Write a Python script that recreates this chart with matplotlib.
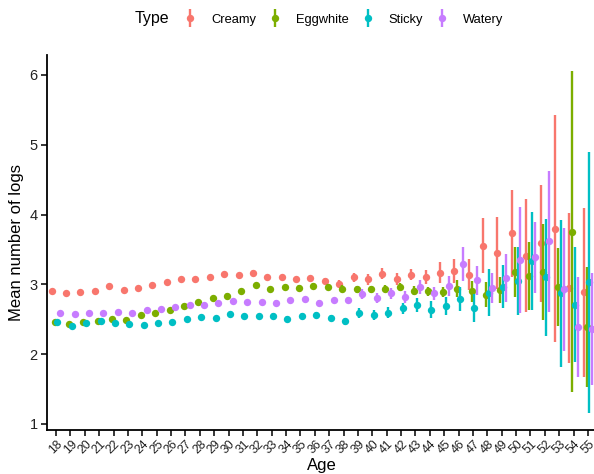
import matplotlib
matplotlib.use("Agg")
import matplotlib.pyplot as plt
from matplotlib.lines import Line2D
from matplotlib.legend_handler import HandlerTuple
import numpy as np

plt.rcParams['font.family'] = ['Liberation Sans', 'DejaVu Sans']

ages = list(range(18, 56))
types = ["Creamy", "Eggwhite", "Sticky", "Watery"]
colors = ["#F8766D", "#7CAE00", "#00BFC4", "#C77CFF"]

creamy_mean = [2.91, 2.87, 2.89, 2.905, 2.97, 2.915, 2.95, 2.99, 3.03, 3.07,
               3.08, 3.105, 3.15, 3.135, 3.17, 3.10, 3.105, 3.08, 3.09, 3.05,
               3.01, 3.10, 3.07, 3.15, 3.08, 3.14, 3.105, 3.17, 3.19, 3.14,
               3.555, 3.45, 3.73, 3.41, 3.59, 3.80, 2.95, 2.89]
creamy_se = [0.03, 0.03, 0.03, 0.03, 0.03, 0.03, 0.03, 0.03, 0.03, 0.03,
             0.03, 0.03, 0.03, 0.03, 0.03, 0.03, 0.03, 0.03, 0.035, 0.04,
             0.05, 0.07, 0.08, 0.08, 0.09, 0.08, 0.10, 0.15, 0.17, 0.22,
             0.39, 0.52, 0.62, 0.81, 0.84, 1.63, 1.07, 1.21]

egg_mean = [2.46, 2.43, 2.46, 2.47, 2.50, 2.49, 2.56, 2.595, 2.63, 2.69,
            2.75, 2.81, 2.84, 2.905, 2.99, 2.93, 2.96, 2.95, 2.98, 2.96,
            2.94, 2.93, 2.93, 2.94, 2.96, 2.91, 2.90, 2.89, 2.94, 2.90,
            2.85, 2.92, 3.18, 3.12, 3.18, 2.96, 3.755, 2.39]
egg_se = [0.03, 0.03, 0.03, 0.03, 0.03, 0.03, 0.03, 0.03, 0.03, 0.03,
          0.03, 0.03, 0.03, 0.03, 0.03, 0.03, 0.03, 0.035, 0.04, 0.04,
          0.045, 0.05, 0.05, 0.05, 0.055, 0.06, 0.06, 0.07, 0.12, 0.15,
          0.18, 0.19, 0.36, 0.48, 0.69, 0.56, 2.30, 0.86]

sticky_mean = [2.46, 2.41, 2.44, 2.47, 2.44, 2.43, 2.42, 2.44, 2.46, 2.50,
               2.53, 2.52, 2.57, 2.55, 2.55, 2.55, 2.51, 2.55, 2.56, 2.52,
               2.475, 2.595, 2.56, 2.595, 2.66, 2.70, 2.64, 2.69, 2.79, 2.66,
               2.88, 2.965, 3.05, 3.34, 3.10, 2.87, 2.71, 3.03]
sticky_se = [0.03, 0.03, 0.03, 0.03, 0.03, 0.03, 0.03, 0.03, 0.03, 0.03,
             0.03, 0.03, 0.03, 0.03, 0.03, 0.035, 0.035, 0.04, 0.04, 0.045,
             0.05, 0.07, 0.07, 0.08, 0.08, 0.10, 0.12, 0.13, 0.17, 0.20,
             0.34, 0.31, 0.49, 0.70, 0.84, 1.05, 0.82, 1.87]

watery_mean = [2.586, 2.57, 2.595, 2.586, 2.61, 2.586, 2.63, 2.65, 2.67, 2.70,
               2.71, 2.73, 2.76, 2.75, 2.75, 2.74, 2.77, 2.79, 2.74, 2.77,
               2.78, 2.86, 2.80, 2.87, 2.82, 2.96, 2.87, 2.98, 3.29, 3.06,
               2.95, 3.09, 3.35, 3.39, 3.62, 2.93, 2.39, 2.36]
watery_se = [0.03, 0.03, 0.03, 0.03, 0.03, 0.03, 0.03, 0.03, 0.03, 0.03,
             0.03, 0.03, 0.03, 0.03, 0.03, 0.03, 0.035, 0.035, 0.04, 0.04,
             0.045, 0.07, 0.07, 0.08, 0.08, 0.10, 0.09, 0.14, 0.24, 0.21,
             0.22, 0.34, 0.76, 0.51, 1.01, 0.88, 0.72, 0.80]

means = [creamy_mean, egg_mean, sticky_mean, watery_mean]
ses = [creamy_se, egg_se, sticky_se, watery_se]

W, H = 594, 474
fig = plt.figure(figsize=(W / 100, H / 100), dpi=100)
ax = fig.add_axes([47.4 / W, (H - 430) / H, (596.6 - 47.4) / W, (430 - 54.7) / H])

base = np.arange(len(ages))
dodge = 0.8
n = len(types)
for i, (t, c) in enumerate(zip(types, colors)):
    off = (i - (n - 1) / 2) * dodge / n
    m = np.array(means[i])
    s = np.array(ses[i])
    ax.vlines(base + off, m - s, m + s, color=c, lw=1.7, zorder=2 + i)
    ax.plot(base + off, m, 'o', color=c, ms=5.3, mec='none', zorder=2 + i)

ax.set_xlim(-0.6, len(ages) - 0.4)
ax.set_ylim(0.914, 6.29)
ax.set_xticks(base)
ax.set_xticklabels([str(a) for a in ages], rotation=45, ha='center', va='top',
                   fontsize=8.8, color='#222222')
ax.set_yticks([1, 2, 3, 4, 5, 6])
ax.tick_params(axis='y', labelsize=10.5, labelcolor='#222222', length=4, width=1.1, pad=3)
ax.tick_params(axis='x', length=4, width=1.1, pad=2)
for sp in ['top', 'right']:
    ax.spines[sp].set_visible(False)
for sp in ['left', 'bottom']:
    ax.spines[sp].set_linewidth(1.3)
ax.set_xlabel("Age", fontsize=12, labelpad=1)
ax.set_ylabel("Mean number of logs", fontsize=12, labelpad=4)

handles = []
for c in colors:
    vl = Line2D([], [], marker='|', linestyle='none', color=c, markersize=13, markeredgewidth=1.7)
    pt = Line2D([], [], marker='o', linestyle='none', color=c, markersize=5.3, mec='none')
    handles.append((vl, pt))
fig.text(135 / W, 1 - 19 / H, "Type", fontsize=11.5, va='center', ha='left')
fig.legend(handles, types, handler_map={tuple: HandlerTuple(ndivide=1)},
           loc='center left', bbox_to_anchor=(183.5 / W, 1 - 20 / H), ncol=4,
           frameon=False, fontsize=9.3, handlelength=1.0, handletextpad=1.12,
           columnspacing=0.97, borderpad=0, borderaxespad=0)

fig.savefig("out.png", dpi=100)
